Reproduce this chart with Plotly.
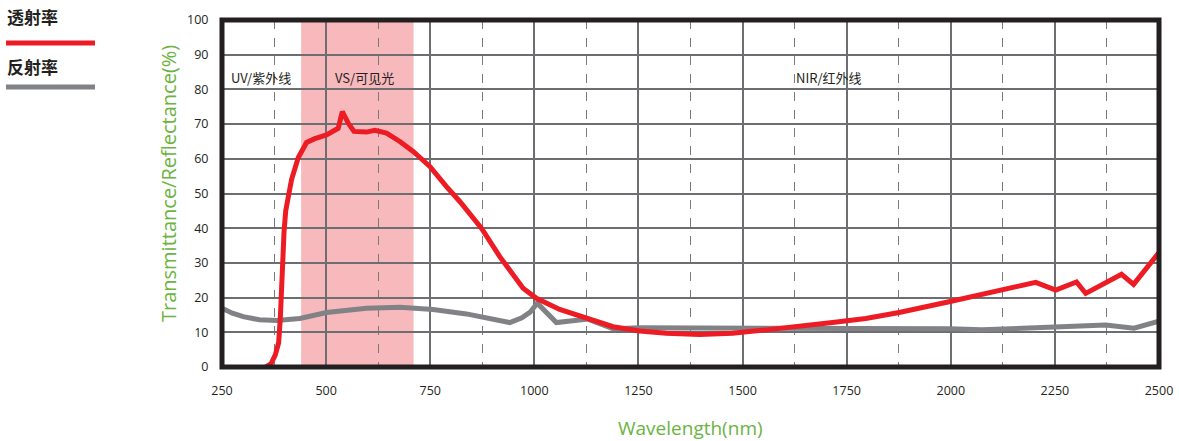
import plotly.graph_objects as go

# Transmittance (red)
wl_t = [355, 368, 378, 386, 390, 393, 396, 399, 403, 409, 417, 433, 453, 473, 501, 529, 539,
        553, 567, 597, 617, 645, 677, 709, 749, 789, 821, 873, 917, 973, 1005, 1061, 1125,
        1189, 1253, 1317, 1397, 1476, 1557, 1636, 1716, 1796, 1876, 1996, 2116, 2204, 2252,
        2302, 2324, 2410, 2439, 2500]
trans = [0, 1.0, 3.5, 7, 14, 24, 32, 39, 45, 49.5, 54, 60.3, 64.7, 65.8, 66.9, 68.8, 73.6,
         70.3, 67.9, 67.7, 68.2, 67.4, 65, 62.1, 57.8, 52, 47.7, 40, 31.8, 22.7, 19.8, 16.6, 14,
         11.6, 10.4, 9.7, 9.4, 9.7, 10.7, 11.6, 12.8, 14, 15.7, 18.8, 22.2, 24.4, 22.2,
         24.5, 21.2, 26.7, 23.8, 33]

# Reflectance (gray)
wl_r = [250, 275, 301, 340, 381, 437, 501, 597, 677, 757, 837, 941, 970, 990, 1007, 1053, 1129,
        1189, 1253, 1500, 1756, 1876, 1996, 2075, 2236, 2372, 2440, 2500]
refl = [16.9, 15.5, 14.5, 13.6, 13.4, 14, 15.7, 16.9, 17.2, 16.6, 15.3, 12.8, 14.2, 15.8, 18.4, 12.8, 13.8,
        11, 11.3, 11.3, 11, 11, 11, 10.7, 11.6, 12.1, 11.2, 13.2]

x_ticks = [250, 500, 750, 1000, 1250, 1500, 1750, 2000, 2250, 2500]
y_ticks = [0, 10, 20, 30, 40, 50, 60, 70, 80, 90, 100]

vis_band = [440, 710]
regions = [("UV/紫外线", 267), ("VS/可见光", 516), ("NIR/红外线", 1624)]
region_y = 83.4

legend_names = ["透射率", "反射率"]
x_title = "Wavelength(nm)"
y_title = "Transmittance/Reflectance(%)"
RED = "#ed1c24"
GRAY = "#808285"
GREEN = "#6cb33f"
DARK = "#231f20"

W, H = 1179, 441
L, R, T, B = 222, 20, 20, 74
pw, ph = W - L - R, H - T - B

def px(x):
    return (x - L) / pw

def py(y):
    return (H - B - y) / ph

fig = go.Figure()
fig.add_trace(go.Scatter(x=wl_r, y=refl, mode="lines", name=legend_names[1],
                         line=dict(color=GRAY, width=5), showlegend=False))
fig.add_trace(go.Scatter(x=wl_t, y=trans, mode="lines", name=legend_names[0],
                         line=dict(color=RED, width=5), showlegend=False))

# visible band
fig.add_shape(type="rect", xref="x", yref="y", x0=vis_band[0], x1=vis_band[1], y0=0, y1=100,
              fillcolor="#f8b9bd", line=dict(width=0), layer="below")
# border
fig.add_shape(type="rect", xref="paper", yref="paper", x0=0, x1=1, y0=0, y1=1,
              line=dict(color=DARK, width=5), layer="above")

for txt, xv in regions:
    fig.add_annotation(x=xv, y=region_y, xref="x", yref="y", text=txt, showarrow=False,
                       xanchor="left", yanchor="middle",
                       font=dict(family="Noto Sans CJK SC", size=13, color=DARK))

# custom legend
for name, ty, ly, col in [(legend_names[0], 16, 43, RED), (legend_names[1], 66, 87, GRAY)]:
    fig.add_annotation(x=px(5), y=py(ty), xref="paper", yref="paper", text="<b>" + name + "</b>",
                       showarrow=False, xanchor="left", yanchor="middle",
                       font=dict(family="Noto Sans CJK SC", size=17, color=DARK))
    fig.add_shape(type="line", xref="paper", yref="paper", x0=px(6), x1=px(95), y0=py(ly), y1=py(ly),
                  line=dict(color=col, width=5))

# axis titles
fig.add_annotation(x=px(690), y=py(428), xref="paper", yref="paper", text=x_title, showarrow=False,
                   xanchor="center", yanchor="middle",
                   font=dict(family="Open Sans", size=19, color=GREEN))
fig.add_annotation(x=px(168), y=py(184), xref="paper", yref="paper", text=y_title, showarrow=False,
                   xanchor="center", yanchor="middle", textangle=-90,
                   font=dict(family="Open Sans", size=20, color=GREEN))

fig.update_layout(
    width=W, height=H,
    margin=dict(l=L, r=R, t=T, b=B, autoexpand=False),
    paper_bgcolor="white", plot_bgcolor="white",
    font=dict(family="Open Sans", size=12.5, color=DARK),
    xaxis=dict(range=[250, 2500], tickvals=x_ticks, showgrid=True, gridcolor="#6d6e71",
               gridwidth=1.5, zeroline=False, showline=False, ticks="outside", ticklen=12,
               tickcolor="rgba(0,0,0,0)", automargin=False,
               minor=dict(dtick=125, tick0=250, showgrid=True, gridcolor="#7a7a7d",
                          griddash="dash", gridwidth=1)),
    yaxis=dict(range=[0, 100], tickvals=y_ticks, showgrid=True, gridcolor="#6d6e71",
               gridwidth=1.5, zeroline=False, showline=False, ticks="outside", ticklen=10,
               tickcolor="rgba(0,0,0,0)", automargin=False),
)

fig.write_html("out.html", config={"displayModeBar": False},
               post_script="document.body.style.margin='0';document.body.style.overflow='hidden';")
